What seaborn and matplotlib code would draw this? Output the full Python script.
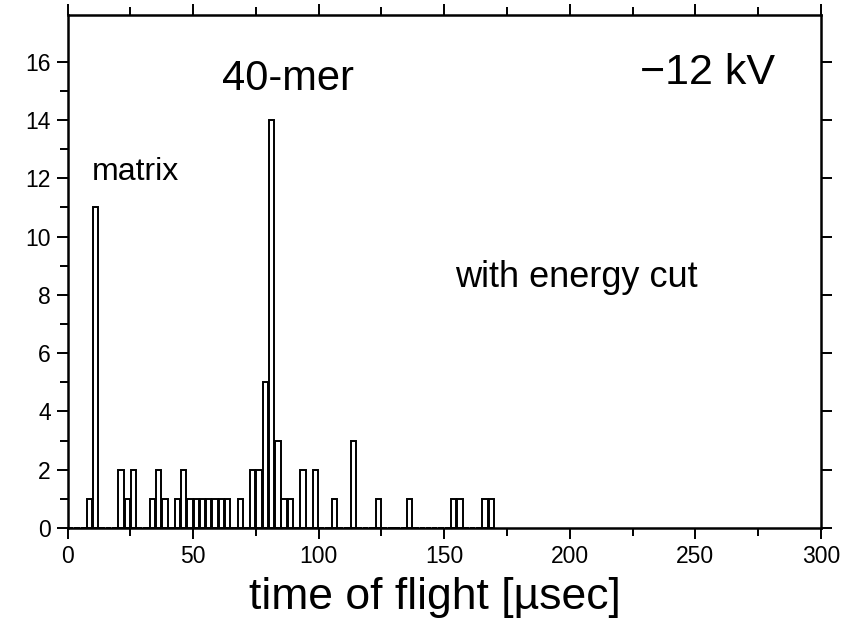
import numpy as np
import pandas as pd
import matplotlib.pyplot as plt
import seaborn as sns

sns.set_style('ticks')
plt.rcParams['font.family'] = ['Liberation Sans', 'DejaVu Sans']
plt.rcParams['text.color'] = 'black'
plt.rcParams['axes.labelcolor'] = 'black'
plt.rcParams['xtick.labelcolor'] = 'black'
plt.rcParams['ytick.labelcolor'] = 'black'

BIN_WIDTH = 2.5

# left edge of every non-empty bin [usec] and its count
tof_bins = [7.5, 10, 20, 22.5, 25, 32.5, 35, 37.5, 42.5, 45, 47.5,
            50, 52.5, 55, 57.5, 60, 62.5, 67.5, 72.5, 75,
            77.5, 80, 82.5, 85, 87.5, 92.5, 97.5, 105, 112.5,
            122.5, 135, 152.5, 155, 165, 167.5]
tof_counts = [1, 11, 2, 1, 2, 1, 2, 1, 1, 2, 1,
              1, 1, 1, 1, 1, 1, 1, 2, 2,
              5, 14, 3, 1, 1, 2, 2, 1, 3,
              1, 1, 1, 1, 1, 1]

x_ticks = [0, 50, 100, 150, 200, 250, 300]
y_ticks = [0, 2, 4, 6, 8, 10, 12, 14, 16]


def plot_tof(output_path):
    fig = plt.figure(figsize=(8.68, 6.3), dpi=100)
    ax = fig.add_axes([0.0778, 0.162, 0.868, 0.814])

    df = pd.DataFrame({'tof': np.array(tof_bins) + BIN_WIDTH / 2,
                       'count': tof_counts})
    sns.histplot(data=df, x='tof', weights='count', binwidth=BIN_WIDTH,
                 binrange=(0, 170), element='bars', fill=False, shrink=0.85,
                 color='black', linewidth=1.4, ax=ax)

    ax.set_xlim(0, 300)
    ax.set_ylim(0, 17.6)
    ax.set_xticks(x_ticks)
    ax.set_xticks(np.arange(25, 300, 50), minor=True)
    ax.set_yticks(y_ticks)
    ax.set_yticks(np.arange(1, 17, 2), minor=True)
    ax.tick_params(which='both', direction='out', top=True, right=True,
                   width=1.4, color='black', labelsize=16.5, pad=4)
    ax.tick_params(which='major', length=8)
    ax.tick_params(which='minor', length=6, right=False)
    for s in ax.spines.values():
        s.set_linewidth(1.8)
        s.set_color('black')

    ax.set_ylabel('')
    ax.set_xlabel('time of flight [\u00b5sec]', fontsize=32)
    ax.xaxis.set_label_coords(0.487, -0.095)

    ax.text(9.8, 12.2, 'matrix', fontsize=23, va='center', ha='left')
    ax.text(61.5, 15.4, '40-mer', fontsize=30, va='center', ha='left')
    ax.text(228, 15.6, '\u221212 kV', fontsize=31, va='center', ha='left')
    ax.text(154.3, 8.6, 'with energy cut', fontsize=26, va='center', ha='left')

    plt.savefig(output_path, dpi=100)
    plt.close()


plot_tof('out.png')
